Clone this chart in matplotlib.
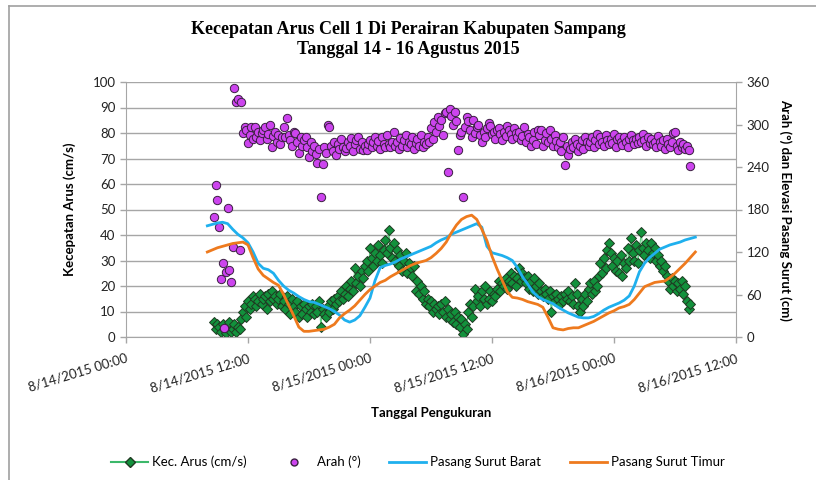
import matplotlib
matplotlib.use("Agg")
import matplotlib.pyplot as plt
import matplotlib.dates as mdates
import numpy as np
import pandas as pd
from matplotlib.lines import Line2D

# ---- data ----
# speed and direction: 10 minute samples, 8/14 08:40 .. 8/16 07:30 (one row = one hour)
kec_arus = [
    6, 3, 5, 4, 2, 5,
    3, 1.5, 4, 6, 2, 3,
    5, 2, 4, 3, 7, 10,
    12, 8, 14, 11, 13, 16,
    15, 12, 14, 17, 13, 15,
    16, 11, 17, 14, 18, 15,
    16, 13, 15, 17, 12, 14,
    11, 16, 13, 9, 15, 12,
    10, 14, 8, 12, 9, 13,
    11, 8, 12, 10, 13, 9,
    12, 10, 14, 4, 11, 9,
    8, 12, 10, 14, 11, 15,
    13, 16, 14, 18, 15, 17,
    20, 16, 19, 22, 18, 27,
    21, 24, 20, 26, 23, 28,
    30, 26, 35, 31, 28, 33,
    30, 36, 32, 29, 34, 38,
    33, 42, 35, 31, 37, 30,
    34, 28, 32, 26, 30, 33,
    25, 29, 27, 24, 28, 18,
    22, 17, 20, 15, 18, 13,
    15, 12, 14, 10, 13, 11,
    12, 9, 13, 10, 14, 8,
    11, 7, 9, 6, 10, 5,
    8, 4, 7, 1, 5, 3,
    10, 13, 8, 12, 19, 14,
    16, 12, 18, 15, 20, 13,
    15, 18, 14, 17, 16, 19,
    22, 18, 21, 20, 23, 19,
    22, 25, 21, 24, 20, 23,
    27, 22, 25, 23, 21, 24,
    19, 22, 18, 23, 20, 17,
    21, 18, 16, 19, 17, 15,
    18, 10, 16, 14, 17, 15,
    13, 16, 14, 17, 15, 18,
    14, 16, 13, 21, 17, 12,
    10, 15, 12, 17, 14, 19,
    21, 17, 22, 18, 20, 24,
    29, 25, 31, 27, 34, 37,
    33, 28, 31, 26, 30, 25,
    32, 24, 29, 27, 35, 30,
    39, 33, 30, 36, 29, 34,
    41, 35, 32, 37, 34, 31,
    37, 33, 35, 30, 32, 28,
    30, 26, 28, 24, 22, 19,
    23, 20, 22, 18, 21, 19,
    22, 17, 20, 14, 11, 13,
]

arah = [
    170, 215, 193, 155, 82, 104,
    13, 92, 182, 95, 78, 127,
    352, 332, 336, 123, 332, 288,
    296, 292, 274, 285, 296, 280,
    296, 283, 290, 278, 288, 292,
    296, 280, 287, 300, 268, 284,
    290, 276, 285, 272, 282, 296,
    283, 309, 285, 278, 270, 290,
    288, 275, 260, 282, 270, 278,
    282, 268, 254, 275, 262, 270,
    258, 245, 265, 198, 244, 268,
    260, 299, 296, 270, 262, 275,
    257, 272, 265, 280, 268, 263,
    267, 275, 270, 281, 262, 272,
    278, 282, 266, 275, 264, 270,
    264, 272, 278, 268, 275, 283,
    270, 277, 265, 282, 273, 268,
    285, 272, 268, 276, 290, 270,
    275, 265, 281, 270, 278, 285,
    268, 276, 272, 282, 266, 274,
    279, 270, 285, 268, 276, 272,
    283, 275, 295, 280, 304, 290,
    310, 298, 306, 285, 316, 318,
    233, 322, 312, 300, 318, 305,
    264, 285, 290, 198, 296, 310,
    305, 292, 282, 306, 288, 296,
    300, 285, 276, 290, 282, 295,
    302, 298, 286, 289, 280, 292,
    295, 286, 278, 290, 284, 298,
    292, 286, 280, 295, 288, 282,
    290, 278, 284, 296, 275, 287,
    282, 270, 278, 290, 273, 292,
    285, 292, 270, 278, 288, 275,
    292, 280, 270, 285, 277, 268,
    275, 262, 283, 243, 270, 257,
    265, 275, 268, 280, 272, 262,
    270, 278, 266, 282, 275, 270,
    275, 283, 268, 278, 286, 273,
    282, 276, 270, 285, 278, 272,
    280, 274, 286, 268, 279, 283,
    276, 271, 282, 275, 268, 279,
    285, 278, 272, 280, 274, 282,
    276, 286, 278, 270, 282, 274,
    280, 272, 276, 268, 284, 275,
    270, 278, 265, 280, 272, 268,
    275, 288, 289, 270, 264, 276,
    268, 272, 265, 270, 264, 241,
]

# tide elevation (cm): 30 minute samples, 8/14 08:00 .. 8/16 08:00
surut_barat = [
    157, 159, 161, 162, 160, 152, 145, 140, 133, 120,
    104, 97, 95, 90, 80, 72, 66, 62, 57, 53,
    50, 49, 46, 43, 40, 36, 31, 24, 21, 24,
    30, 42, 55, 80, 98, 101, 103, 106, 110, 113,
    116, 119, 122, 125, 128, 133, 137, 140, 145, 148,
    151, 154, 157, 160, 155, 128, 119, 117, 115, 112,
    108, 98, 85, 75, 64, 57, 53, 50, 47, 42,
    38, 34, 31, 28, 27, 27, 29, 33, 38, 42,
    45, 48, 52, 58, 72, 92, 104, 112, 118, 124,
    127, 130, 132, 134, 137, 139, 141,
]

surut_timur = [
    120, 123, 126, 128, 130, 132, 133, 134, 130, 112,
    96, 87, 82, 77, 73, 60, 45, 30, 14, 8,
    8, 9, 10, 11, 14, 18, 27, 33, 38, 44,
    52, 60, 67, 72, 77, 80, 85, 89, 93, 97,
    101, 104, 106, 108, 112, 118, 125, 134, 147, 158,
    166, 170, 172, 166, 152, 136, 114, 96, 80, 64,
    56, 55, 53, 50, 48, 46, 42, 28, 13, 11,
    10, 12, 13, 13, 16, 19, 22, 26, 30, 34,
    37, 41, 43, 46, 53, 62, 71, 74, 77, 78,
    79, 84, 90, 97, 104, 112, 120,
]

x_ticks = ["8/14/2015 00:00", "8/14/2015 12:00", "8/15/2015 00:00",
           "8/15/2015 12:00", "8/16/2015 00:00", "8/16/2015 12:00"]

waktu_arus = pd.date_range("2015-08-14 08:40", periods=len(kec_arus), freq="10min")
waktu_surut = pd.date_range("2015-08-14 08:00", periods=len(surut_barat), freq="30min")

plt.rcParams["font.family"] = ["Lato", "DejaVu Sans"]
GRID = "#a6a6a6"

fig = plt.figure(figsize=(8.16, 4.8), dpi=100)
ax = fig.add_axes([126 / 816, 1 - 337 / 480, 610 / 816, 255 / 480])
ax2 = ax.twinx()

ax.plot(waktu_arus, kec_arus, color="#5fcf80", lw=0.8, marker="D", ms=5.5,
        mfc="#12913c", mec="#1f3a22", mew=0.7, zorder=2)
ax.set_zorder(1)
ax2.set_zorder(2)
ax2.patch.set_visible(False)

ax2.plot(waktu_arus, arah, ls="none", marker="o", ms=6, mfc="#cc44ee",
         mec="#3a2040", mew=0.7, zorder=2)
ax2.plot(waktu_surut, surut_barat, color="#1fb0ee", lw=2, zorder=3)
ax2.plot(waktu_surut, surut_timur, color="#ee7a1e", lw=2, zorder=4)

x0 = pd.Timestamp("2015-08-14 00:00")
x1 = pd.Timestamp("2015-08-16 12:00")
ax.set_xlim(x0, x1)
ax.set_ylim(0, 100)
ax2.set_ylim(0, 360)
ax.set_yticks(np.arange(0, 101, 10))
ax2.set_yticks(np.arange(0, 361, 60))
ax.set_xticks(pd.date_range(x0, x1, freq="12h"))
ax.set_xticklabels(x_ticks, rotation=17, ha="right", rotation_mode="anchor")
ax.grid(axis="y", color=GRID, lw=1)
ax.set_axisbelow(True)

for a in (ax, ax2):
    a.spines["top"].set_visible(False)
    for s in ("left", "right", "bottom"):
        a.spines[s].set_color(GRID)
    a.tick_params(colors=GRID, labelcolor="#222222", labelsize=9.5, length=4, width=1)
ax.tick_params(axis="x", pad=7)
ax.spines["right"].set_visible(False)
ax2.spines["left"].set_visible(False)
ax2.spines["bottom"].set_visible(False)

ax.set_ylabel("Kecepatan Arus (cm/s)", fontsize=9.5, fontweight="bold", labelpad=12)
ax2.set_ylabel("Arah (°) dan Elevasi Pasang Surut (cm)", fontsize=9.5,
               fontweight="bold", rotation=-90, labelpad=16)
fig.text(431 / 816, 1 - 413 / 480, "Tanggal Pengukuran", ha="center", va="center",
         fontsize=9.5, fontweight="bold")

fig.text(0.5, 1 - 30 / 480, "Kecepatan Arus Cell 1 Di Perairan Kabupaten Sampang",
         ha="center", va="center", fontsize=13, fontweight="bold",
         family="Liberation Serif")
fig.text(0.5, 1 - 50 / 480, "Tanggal 14 - 16 Agustus 2015", ha="center", va="center",
         fontsize=13, fontweight="bold", family="Liberation Serif")

handles = [
    Line2D([], [], color="#3cb86a", lw=1.5, marker="D", ms=5, mfc="#12913c", mec="#1f3a22"),
    Line2D([], [], ls="none", marker="o", ms=5, mfc="#cc44ee", mec="#3a2040"),
    Line2D([], [], color="#1fb0ee", lw=2),
    Line2D([], [], color="#ee7a1e", lw=2),
]
labels = ["Kec. Arus (cm/s)", "Arah (°)", "Pasang Surut Barat", "Pasang Surut Timur"]
fig.legend(handles, labels, loc="center", bbox_to_anchor=(418 / 816, 1 - 462 / 480),
           ncol=4, frameon=False, fontsize=9.5, handlelength=2.8, columnspacing=2.2,
           handletextpad=0.3)

# chart area border (top and left edges visible in the reference)
fig.add_artist(Line2D([9 / 816, 1], [1 - 6 / 480] * 2, color="#a0a0a0", lw=1.2))
fig.add_artist(Line2D([9 / 816] * 2, [0, 1 - 6 / 480], color="#a0a0a0", lw=1.2))

fig.savefig("out.png", dpi=100)
